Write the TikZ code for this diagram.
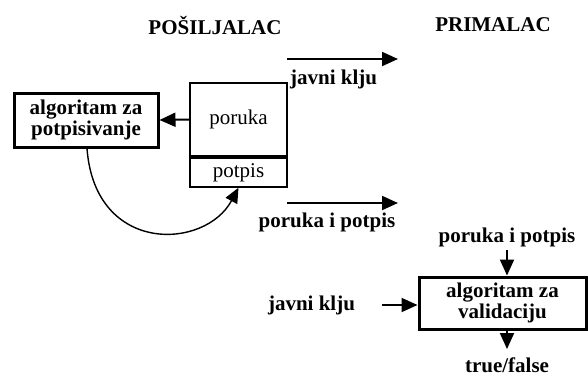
\documentclass[tikz,border=0pt]{standalone}
\usepackage{fontspec}
\setmainfont{Liberation Serif}
\usetikzlibrary{arrows.meta}
\begin{document}
\begin{tikzpicture}[x=1pt,y=-1pt,
  every node/.style={font=\fontsize{21}{21.5}\selectfont},
  lbl/.style={font=\fontsize{21}{21.5}\selectfont\bfseries, inner sep=0pt},
  thinbox/.style={draw, line width=1.4pt, inner sep=0pt},
  thickbox/.style={draw, line width=3pt, inner sep=0pt, align=center,
    font=\fontsize{21}{21.5}\selectfont\bfseries},
  arr/.style={line width=2pt, -{Triangle[length=16pt,width=14pt]}},
  curvearr/.style={line width=1.4pt, -{Triangle[length=15pt,width=13pt]}}]
\useasboundingbox (0,0) rectangle (588,376);

% column titles
\node[lbl] (sender) at (215,25) {POŠILJALAC};
\node[lbl] (receiver) at (493,25) {PRIMALAC};

% message and signature blocks
\node[thinbox, minimum width=97pt, minimum height=73pt] (msg) at (238.5,119.5) {poruka};
\node[thinbox, minimum width=97pt, minimum height=29pt] (sig) at (238.5,172.5) {potpis};

% signing algorithm
\node[thickbox, minimum width=144pt, minimum height=54pt] (sign) at (86,120)
  {algoritam za\\potpisivanje};

\draw[arr] (msg.west) -- (sign.east);
\draw[curvearr] (sign.south -| 87,0) .. controls (95,255) and (205,250) .. (sig.south);

% transmitted items
\coordinate (k1) at (287,59);
\coordinate (k2) at (398,59);
\draw[arr] (k1) -- (k2);
\node[lbl, anchor=west] (keylbl) at (290,79) {javni klju};

\coordinate (m1) at (287,203);
\coordinate (m2) at (398,203);
\draw[arr] (m1) -- (m2);
\node[lbl] (msglbl) at (327,222) {poruka i potpis};

% validation at the receiver
\node[lbl] (inmsg) at (507,237) {poruka i potpis};
\node[thickbox, minimum width=167pt, minimum height=52pt] (valid) at (502.5,303)
  {algoritam za\\validaciju};
\node[lbl] (inkey) at (311.5,305) {javni klju};
\node[lbl] (result) at (507,365) {true/false};

\coordinate (vin) at (507,250);
\draw[arr] (vin) -- (vin |- valid.north);
\coordinate (kin) at (382,305);
\draw[arr] (kin) -- (kin -| valid.west);
\coordinate (vout) at (507,349);
\draw[arr] (vout |- valid.south) -- (vout);
\end{tikzpicture}
\end{document}
